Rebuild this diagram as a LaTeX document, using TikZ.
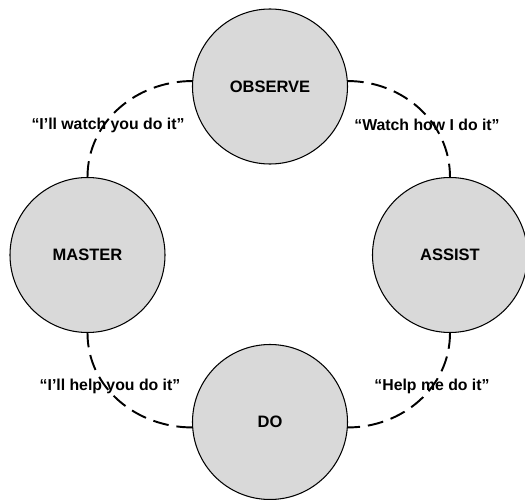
\documentclass[tikz,border=0pt]{standalone}
\usepackage{fontspec}
\setmainfont{Liberation Sans}
\definecolor{stagegray}{HTML}{D9D9D9}

\begin{document}
\begin{tikzpicture}[every node/.style={font=\bfseries\fontsize{9}{11}\selectfont}]
				\tikzstyle{stage} = [circle, draw, line width=0.6pt, fill=stagegray, minimum size=3.1cm, inner sep=0pt, font=\bfseries\fontsize{9.4}{11}\selectfont]
				\tikzstyle{loopedge} = [line width=1.1pt, dash pattern=on 9pt off 4.5pt]
				
				\useasboundingbox (-5.4,-4.88) rectangle (5.1,5.1);
				
				\node[stage] (O) at (0,3.37) {OBSERVE};
				\node[stage] (A) at (3.6,0) {ASSIST};
				\node[stage] (D) at (0,-3.34) {DO};
				\node[stage] (M) at (-3.65,0) {MASTER};
				
				\draw [loopedge] (O.4) to[out=0,in=90] (A.north);
				\draw [loopedge] (A.south) to[out=-90,in=0] (D.-4);
				\draw [loopedge] (D.184) to[out=180,in=-90] (M.south);
				\draw [loopedge] (M.north) to[out=90,in=180] (O.176);
				
				\node (L1) at (-3.24,2.6) {“I’ll watch you do it”};
				\node (L2) at (3.14,2.6) {“Watch how I do it”};
				\node (L3) at (3.24,-2.63) {“Help me do it”};
				\node (L4) at (-3.2,-2.63) {“I’ll help you do it”};
				
				\end{tikzpicture}
\end{document}
